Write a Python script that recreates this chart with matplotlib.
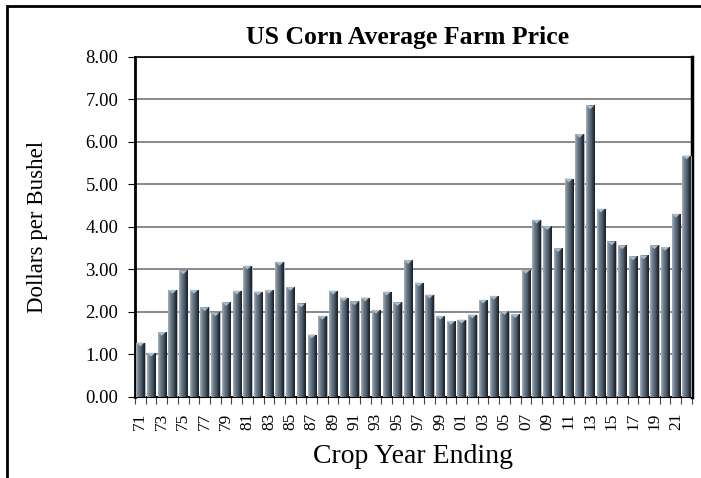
import matplotlib
matplotlib.use("Agg")
import matplotlib.pyplot as plt
import numpy as np
from matplotlib.patches import Polygon, Rectangle
from matplotlib.colors import LinearSegmentedColormap

years = ["71", "72", "73", "74", "75", "76", "77", "78", "79", "80",
         "81", "82", "83", "84", "85", "86", "87", "88", "89", "90",
         "91", "92", "93", "94", "95", "96", "97", "98", "99", "00",
         "01", "02", "03", "04", "05", "06", "07", "08", "09", "10",
         "11", "12", "13", "14", "15", "16", "17", "18", "19", "20",
         "21", "22"]
prices = [1.28, 1.04, 1.53, 2.52, 2.98, 2.52, 2.11, 1.99, 2.23, 2.50,
          3.09, 2.48, 2.52, 3.18, 2.59, 2.20, 1.47, 1.91, 2.50, 2.34,
          2.25, 2.34, 2.05, 2.48, 2.23, 3.22, 2.69, 2.41, 1.91, 1.79,
          1.82, 1.94, 2.29, 2.38, 2.02, 1.95, 2.99, 4.17, 4.02, 3.50,
          5.14, 6.19, 6.86, 4.43, 3.66, 3.57, 3.31, 3.33, 3.57, 3.53,
          4.31, 5.68]
yticks = [0, 1, 2, 3, 4, 5, 6, 7, 8]

plt.rcParams['font.family'] = ['Liberation Serif', 'DejaVu Serif']

fig = plt.figure(figsize=(7.01, 4.78), dpi=100)
ax = fig.add_axes([0.1926, 0.1695, 0.7944, 0.7113])

x = np.arange(len(years))
bars = ax.bar(x, prices, width=0.78, color='#5d6c7a', edgecolor='#b8bcc0',
              linewidth=0.6, zorder=3)

cmap = LinearSegmentedColormap.from_list(
    'bar', ['#a8b6c2', '#7b8b99', '#5f6f7d', '#4e5c69', '#2e363e', '#1c2126'])
grad = np.linspace(0, 1, 64).reshape(1, -1)
for b in bars:
    x0, w, h = b.get_x(), b.get_width(), b.get_height()
    im = ax.imshow(grad, cmap=cmap, aspect='auto', extent=[x0, x0 + w, 0, h],
                   zorder=3.5, interpolation='bilinear')
    im.set_clip_path(b)
    cap = 0.09
    ax.add_patch(Polygon([[x0, h], [x0 + w, h], [x0 + w / 2, h - cap]],
                         closed=True, facecolor='#a9bccb', edgecolor='none',
                         zorder=4))

ax.set_xlim(-0.5, len(years) - 0.5)
ax.set_ylim(0, 8)
ax.set_yticks(yticks)
ax.set_yticklabels([f"{v:.2f}" for v in yticks], fontsize=13.5)
ax.yaxis.grid(True, color='#808080', linewidth=1.3, zorder=1)
ax.set_axisbelow(True)

ax.set_xticks(x[::2])
ax.set_xticklabels(years[::2], rotation=90, fontsize=12.5)
ax.set_xticks(np.arange(-0.5, len(years)), minor=True)
ax.tick_params(axis='x', which='major', length=0, pad=11)
ax.tick_params(axis='x', which='minor', length=5, width=0.8, color='#444444')
ax.tick_params(axis='y', length=5, width=0.8, direction='out', pad=7)

for s in ['left', 'top', 'right', 'bottom']:
    ax.spines[s].set_color('black')
ax.spines['left'].set_linewidth(2.0)
ax.spines['right'].set_linewidth(2.5)
ax.spines['top'].set_linewidth(1.2)
ax.spines['bottom'].set_linewidth(1.5)

ax.set_xlabel("Crop Year Ending", fontsize=20, labelpad=10)
ax.set_ylabel("Dollars per Bushel", fontsize=16.5, labelpad=27)
fig.text(0.582, 0.922, "US Corn Average Farm Price", ha='center', va='center',
         fontsize=18.5, fontweight='bold')

fig.patches.append(Rectangle((7 / 701, -0.02), 1.1, 1 - 6 / 478 + 0.02,
                             transform=fig.transFigure, fill=False,
                             edgecolor='black', linewidth=2.0))

fig.savefig("out.png", dpi=100)
